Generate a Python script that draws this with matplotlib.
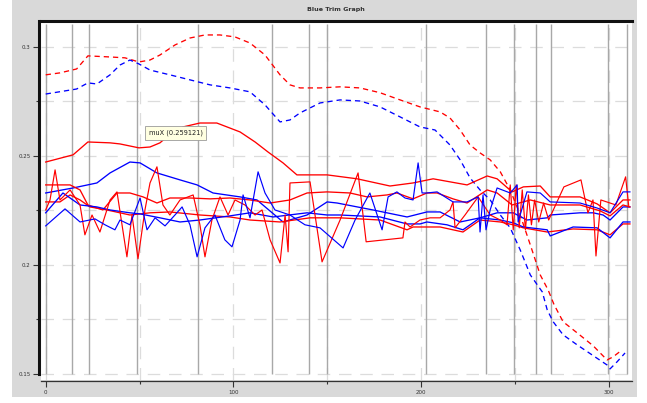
import matplotlib
matplotlib.use("Agg")
import matplotlib.pyplot as plt
from matplotlib.patches import Rectangle
from matplotlib.ticker import FixedLocator, FuncFormatter

# ---- data ----
red_dash_x = [0, 7.6, 16.5, 22.5, 34.3, 42.3, 49.7, 55.6, 60.9, 68.9, 76.9, 84.9, 92.9, 100.9, 108.9,
              116.9, 124.9, 130.2, 135.5, 146.2, 156.9, 167.5, 178.2, 188.9, 199.5, 210.2, 215.5,
              220.9, 226.2, 231.5, 236.9, 242.3, 247.6, 252.9, 258.3, 263.6, 267.8, 271.0, 275.8,
              283.3, 291.8, 299.2, 302.4, 307.2]
red_dash_y = [0.2872, 0.2881, 0.2899, 0.2959, 0.2954, 0.2950, 0.2931, 0.2940, 0.2963, 0.3009, 0.3041,
              0.3055, 0.3055, 0.3046, 0.3018, 0.2963, 0.2872, 0.2826, 0.2812, 0.2812, 0.2817, 0.2812,
              0.2790, 0.2757, 0.2725, 0.2702, 0.2674, 0.2619, 0.2550, 0.2514, 0.2482, 0.2427, 0.2344,
              0.2229, 0.2092, 0.1954, 0.1885, 0.1817, 0.1739, 0.1688, 0.1629, 0.1564, 0.1578, 0.1610]

blue_dash_x = [0, 16.5, 22.5, 27.3, 34.3, 39.6, 44.9, 49.7, 55.6, 66.2, 76.9, 87.6, 98.2, 108.9, 116.9,
               124.9, 130.2, 135.5, 146.2, 156.9, 167.5, 178.2, 188.9, 199.5, 207.5, 215.5, 220.9,
               226.2, 231.5, 236.9, 242.3, 247.6, 252.9, 258.3, 264.7, 267.3, 270.5, 275.8, 283.3,
               292.8, 299.2, 300.8, 304.5, 308.8]
blue_dash_y = [0.2784, 0.2807, 0.2835, 0.2830, 0.2872, 0.2917, 0.2940, 0.2922, 0.2894, 0.2872, 0.2849,
               0.2826, 0.2812, 0.2794, 0.2734, 0.2656, 0.2665, 0.2697, 0.2743, 0.2757, 0.2752, 0.2725,
               0.2679, 0.2633, 0.2619, 0.2550, 0.2482, 0.2399, 0.2344, 0.2298, 0.2229, 0.2170, 0.2069,
               0.1954, 0.1876, 0.1794, 0.1739, 0.1679, 0.1633, 0.1578, 0.1541, 0.1523, 0.1555, 0.1596]

red_up_x = [0, 14.6, 22.5, 34.3, 39.6, 49.7, 55.6, 60.9, 64.6, 73.2, 82.2, 91.2, 103.6, 111.6, 118.5,
            126.5, 133.9, 150, 166, 183.5, 195.8, 206.5, 224.6, 235.3, 240.6, 248.6, 254.6, 263.6,
            268.9, 284.8, 293.9, 300.8, 307.7, 311.4]
red_up_y = [0.2472, 0.2505, 0.2564, 0.2560, 0.2555, 0.2537, 0.2541, 0.2560, 0.2587, 0.2633, 0.2651,
            0.2651, 0.2610, 0.2564, 0.2518, 0.2468, 0.2413, 0.2413, 0.2395, 0.2362, 0.2376, 0.2395,
            0.2367, 0.2408, 0.2395, 0.2335, 0.2358, 0.2362, 0.2312, 0.2312, 0.2280, 0.2239, 0.2298,
            0.2298]

blue_up_x = [0, 14.6, 27.3, 34.3, 44.9, 50.3, 59.3, 71.6, 80.7, 89.2, 103.6, 112.6, 126.5, 139.3, 150,
             155.3, 174.5, 192.6, 203.2, 210.2, 220.9, 231.5, 240.6, 249.2, 256.5, 267.3, 268.9,
             284.8, 291.8, 297.1, 300.8, 307.7, 311.4]
blue_up_y = [0.2330, 0.2353, 0.2376, 0.2422, 0.2472, 0.2468, 0.2422, 0.2390, 0.2367, 0.2330, 0.2312,
             0.2298, 0.2197, 0.2229, 0.2289, 0.2284, 0.2252, 0.2220, 0.2243, 0.2243, 0.2197, 0.2216,
             0.2239, 0.2239, 0.2206, 0.2216, 0.2229, 0.2239, 0.2239, 0.2229, 0.2206, 0.2266, 0.2266]

red_mid_x = [0, 13, 18.3, 22.5, 30.5, 38, 44.9, 51.9, 59.3, 66.2, 76.9, 87.6, 98.2, 108.9, 119.6,
             130.2, 139.3, 150, 162.2, 171.3, 181.9, 187.2, 195.8, 203.2, 208.6, 217.1, 224.6, 235.3,
             240.6, 248.6, 258.3, 268.9, 284.8, 295.5, 300.8, 307.7, 311.4]
red_mid_y = [0.2367, 0.2367, 0.2344, 0.2275, 0.2252, 0.2330, 0.2330, 0.2312, 0.2284, 0.2307, 0.2307,
             0.2303, 0.2307, 0.2298, 0.2284, 0.2298, 0.2330, 0.2335, 0.2330, 0.2312, 0.2321, 0.2330,
             0.2303, 0.2330, 0.2330, 0.2303, 0.2284, 0.2344, 0.2330, 0.2275, 0.2298, 0.2275, 0.2275,
             0.2248, 0.2225, 0.2275, 0.2266]

red_low_x = [0, 7.6, 13, 18.3, 23.6, 32.7, 44.9, 55.6, 66.2, 82.2, 98.2, 108.9, 124.9, 140.9, 156.9,
             178.2, 192.6, 195.8, 210.2, 217.1, 222.4, 231.5, 242.3, 249.2, 254.6, 267.3, 281.1,
             293.9, 300.8, 307.7, 311.4]
red_low_y = [0.2289, 0.2289, 0.2321, 0.2298, 0.2266, 0.2252, 0.2229, 0.2239, 0.2243, 0.2229, 0.2220,
             0.2206, 0.2197, 0.2216, 0.2216, 0.2206, 0.2161, 0.2174, 0.2174, 0.2161, 0.2151, 0.2206,
             0.2197, 0.2184, 0.2170, 0.2151, 0.2165, 0.2161, 0.2138, 0.2188, 0.2188]

blue_mid_x = [0, 9.2, 18.3, 27.3, 34.3, 44.9, 50.3, 60.9, 71.6, 82.2, 98.2, 108.9, 121.2, 139.3, 150,
              156.9, 178.2, 192.6, 199.5, 203.2, 213.9, 222.4, 231.5, 242.3, 249.2, 254.6, 267.3,
              268.9, 281.1, 293.9, 300.8, 307.7, 311.4]
blue_mid_y = [0.2239, 0.2330, 0.2275, 0.2266, 0.2252, 0.2239, 0.2234, 0.2216, 0.2197, 0.2206, 0.2225,
              0.2239, 0.2220, 0.2239, 0.2229, 0.2229, 0.2220, 0.2188, 0.2188, 0.2197, 0.2184, 0.2161,
              0.2216, 0.2206, 0.2193, 0.2174, 0.2161, 0.2133, 0.2174, 0.2170, 0.2124, 0.2197, 0.2197]

red_noisy_x = [0, 2.3, 5, 7.6, 13, 18.3, 20.9, 24.7, 28.9, 34.3, 38, 43.3, 46, 49.2, 52.9, 55.6, 59.3,
               62.5, 66.2, 71.6, 78.6, 82.2, 84.9, 88.6, 92.9, 97.2, 100.9, 106.2, 111.6, 115.3,
               119.6, 124.9, 127.6, 129.2, 130.2, 140.9, 147.3, 156.9, 166.5, 170.8, 190.4, 191.5,
               194.2, 199.5, 204.9, 210.2, 215.5, 217.1, 218.2, 223.5, 230.5, 236.9, 242.3, 245.9,
               247.6, 249.2, 250.8, 252.4, 254, 255.7, 257.3, 258.9, 260.6, 262.8, 265.4, 268.1,
               276.2, 285.3, 289, 291.7, 293.3, 295.9, 303.9, 309.1, 310.8]
red_noisy_y = [0.2252, 0.2298, 0.2436, 0.2298, 0.2344, 0.2275, 0.2138, 0.2229, 0.2151, 0.2298, 0.2335,
               0.2037, 0.2229, 0.2028, 0.2252, 0.2376, 0.2450, 0.2275, 0.2229, 0.2298, 0.2321, 0.2184,
               0.2037, 0.2206, 0.2312, 0.2229, 0.2298, 0.2275, 0.2229, 0.2252, 0.2115, 0.2009, 0.2229,
               0.2060, 0.2376, 0.2381, 0.2014, 0.2206, 0.2422, 0.2106, 0.2124, 0.2197, 0.2174, 0.2206,
               0.2216, 0.2216, 0.2252, 0.2289, 0.2170, 0.2229, 0.2312, 0.2229, 0.2206, 0.2184, 0.2367,
               0.2161, 0.2367, 0.2170, 0.2344, 0.2161, 0.2321, 0.2184, 0.2298, 0.2197, 0.2284, 0.2206,
               0.2358, 0.2390, 0.2239, 0.2298, 0.2041, 0.2298, 0.2275, 0.2404, 0.2266]

blue_noisy_x = [0, 10.3, 18.3, 26.3, 31.6, 36.9, 39.6, 44.9, 50.3, 54, 58.3, 63.6, 68.9, 72.7, 76.9,
                80.7, 84.9, 90.2, 95.5, 99.3, 103.6, 105.2, 108.9, 113.2, 116.9, 122.2, 130.2, 138.2,
                146.2, 158.5, 164.9, 172.8, 179.3, 182.5, 187.2, 191.5, 195.8, 198.5, 200.6, 203.2,
                208.6, 217.1, 224.6, 230.5, 231.5, 233.1, 234.7, 236.9, 240.6, 247.6, 251.3, 251.8,
                256.5, 263.6, 268.9, 284.8, 293.9, 300.8, 307.7, 311.4]
blue_noisy_y = [0.2179, 0.2257, 0.2197, 0.2211, 0.2184, 0.2161, 0.2206, 0.2184, 0.2307, 0.2161, 0.2216,
                0.2179, 0.2229, 0.2266, 0.2184, 0.2037, 0.2170, 0.2229, 0.2115, 0.2083, 0.2206, 0.2321,
                0.2216, 0.2427, 0.2330, 0.2252, 0.2229, 0.2184, 0.2170, 0.2078, 0.2206, 0.2330, 0.2161,
                0.2312, 0.2335, 0.2307, 0.2298, 0.2468, 0.2330, 0.2330, 0.2335, 0.2289, 0.2289, 0.2312,
                0.2151, 0.2321, 0.2161, 0.2252, 0.2353, 0.2330, 0.2367, 0.2197, 0.2335, 0.2330, 0.2289,
                0.2284, 0.2261, 0.2239, 0.2335, 0.2335]

event_x = [0, 14.2, 23.2, 48.8, 81, 120.8, 140.2, 150.1, 202.7, 234.5, 249.6, 261.2, 269.3, 299.6, 309.7]

x_major = [0, 100, 200, 300]
x_minor = [50, 150, 250]
y_major = [0.15, 0.2, 0.25, 0.3]
y_minor = [0.175, 0.225, 0.275]

title = "Blue Trim Graph"
tip_text = "muX (0.259121)"
tip_xy = (54.8, 0.2607)

# ---- figure ----
W, H = 647, 403
fig = plt.figure(figsize=(W / 100, H / 100), dpi=100, facecolor="white")
fig.patches.append(Rectangle((12 / W, 6 / H), 625 / W, 397 / H, transform=fig.transFigure,
                             facecolor="#d9d9d9", edgecolor="none", zorder=-10))

ax = fig.add_axes([41 / W, 1 - 380 / H, 591 / W, 359 / H])
ax.set_facecolor("white")
ax.set_xlim(-2.5, 312.5)
ax.set_ylim(0.1472, 0.3119)

ax.xaxis.set_major_locator(FixedLocator(x_major))
ax.xaxis.set_minor_locator(FixedLocator(x_minor))
ax.yaxis.set_major_locator(FixedLocator(y_major))
ax.yaxis.set_minor_locator(FixedLocator(y_minor))
ax.yaxis.set_major_formatter(FuncFormatter(lambda v, p: "%g" % v))

ax.grid(True, which="both", color="#dcdcdc", linewidth=0.9, linestyle=(0, (10, 7)), zorder=0)
ax.set_axisbelow(True)

ax.vlines(event_x, 0.15, 0.3106, colors="#a8a8a8", linewidth=1.0, zorder=1)

lw = 0.95
ax.plot(red_dash_x, red_dash_y, color="#ff0000", lw=lw, linestyle=(0, (4, 3)), zorder=3)
ax.plot(blue_dash_x, blue_dash_y, color="#0000ff", lw=lw, linestyle=(0, (4, 3)), zorder=3)
ax.plot(red_up_x, red_up_y, color="#ff0000", lw=lw, zorder=3)
ax.plot(blue_up_x, blue_up_y, color="#0000ff", lw=lw, zorder=3)
ax.plot(red_mid_x, red_mid_y, color="#ff0000", lw=lw, zorder=3)
ax.plot(red_low_x, red_low_y, color="#ff0000", lw=lw, zorder=3)
ax.plot(blue_mid_x, blue_mid_y, color="#0000ff", lw=lw, zorder=3)
ax.plot(red_noisy_x, red_noisy_y, color="#ff0000", lw=0.85, zorder=3)
ax.plot(blue_noisy_x, blue_noisy_y, color="#0000ff", lw=0.85, zorder=3)

ax.text(tip_xy[0], tip_xy[1], tip_text, fontsize=4.8, color="#222", ha="left", va="center",
        zorder=5, bbox=dict(boxstyle="square,pad=0.55", facecolor="#ffffe1", edgecolor="#9a9a9a",
                            linewidth=0.6))

# spines
ax.spines["right"].set_visible(False)
ax.spines["top"].set_linewidth(2.2)
ax.spines["top"].set_color("#111")
ax.spines["left"].set_linewidth(2.2)
ax.spines["left"].set_color("#111")
ax.spines["left"].set_position(("outward", 1.5))
ax.spines["left"].set_bounds(0.15, 0.3119)
ax.spines["bottom"].set_linewidth(0.9)
ax.spines["bottom"].set_color("#333")
ax.spines["bottom"].set_position(("outward", 1))

ax.tick_params(which="major", length=4, width=0.8, color="#333", labelsize=4, labelcolor="#333", pad=2)
ax.tick_params(which="minor", length=2, width=0.8, color="#333")

fig.text(336 / W, 1 - 9 / H, title, ha="center", va="center", fontsize=4.6, color="#333",
         fontweight="bold")

fig.savefig("out.png", dpi=100, facecolor=fig.get_facecolor())
